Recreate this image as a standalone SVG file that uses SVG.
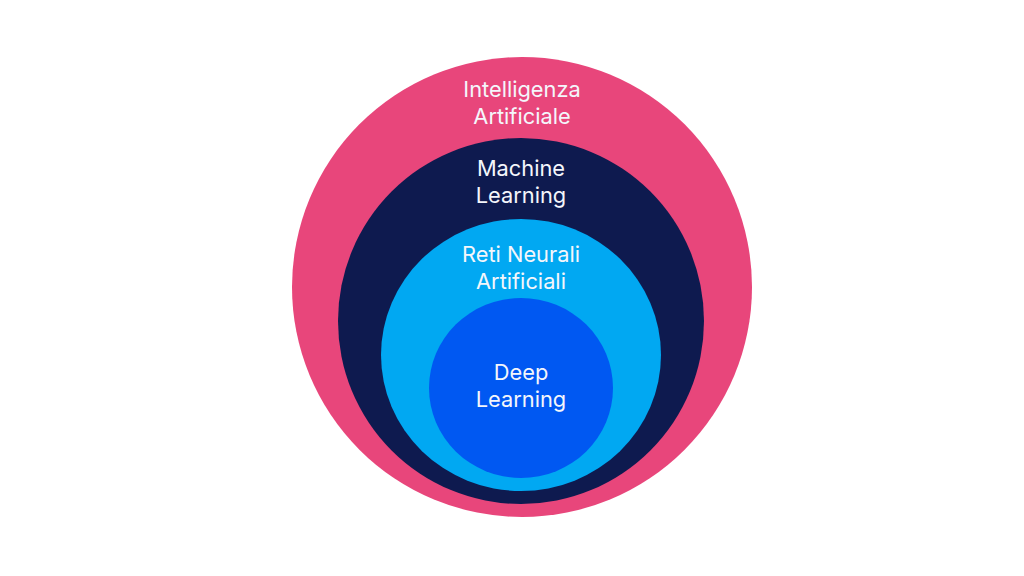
<svg xmlns="http://www.w3.org/2000/svg" width="1024" height="576" viewBox="0 0 1024 576">
<style>
.lbl{font-family:Inter,"Noto Sans","Liberation Sans",sans-serif;font-size:21.8px;fill:#F4F6FB;text-anchor:middle;}
</style>
<rect width="1024" height="576" fill="#FFFFFF"/>
<g id="ai">
<circle cx="522" cy="287" r="230" fill="#E8467B"/>
<text class="lbl" x="522" y="97">Intelligenza</text>
<text class="lbl" x="522" y="124">Artificiale</text>
</g>
<g id="ml">
<circle cx="521" cy="321" r="183" fill="#0E1A4F"/>
<text class="lbl" x="521" y="176">Machine</text>
<text class="lbl" x="521" y="203">Learning</text>
</g>
<g id="ann">
<ellipse cx="521" cy="355" rx="140" ry="136" fill="#01A8F2"/>
<text class="lbl" x="521" y="262">Reti Neurali</text>
<text class="lbl" x="521" y="289">Artificiali</text>
</g>
<g id="dl">
<ellipse cx="521" cy="388" rx="92" ry="90" fill="#0058F2"/>
<text class="lbl" x="521" y="380">Deep</text>
<text class="lbl" x="521" y="407">Learning</text>
</g>
<g id="connectors"></g>
</svg>
